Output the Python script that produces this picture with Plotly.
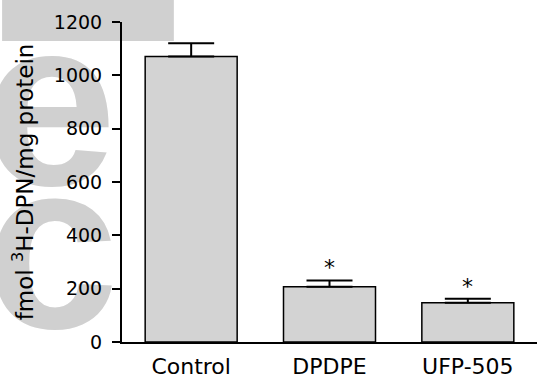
import plotly.graph_objects as go

categories = ["Control", "DPDPE", "UFP-505"]
values = [1071, 207, 147]
sem = [49, 24, 15]
significance = ["", "*", "*"]
y_ticks = [0, 200, 400, 600, 800, 1000, 1200]

FONT = "DejaVu Sans, Verdana, sans-serif"
W, H = 537, 378

fig = go.Figure()

# faint watermark glyphs behind the chart (page-pixel coordinates on a hidden full-page axis pair)
wm_text = ["e", "c"]
wm_x = [50, 52]
wm_y = [125, 268]
fig.add_trace(go.Scatter(
    x=wm_x, y=wm_y, mode="text", text=wm_text,
    textfont=dict(family="Liberation Sans, Arial, sans-serif", size=240, color="#d0d0d0",
                  weight="bold"),
    textposition="middle center", cliponaxis=False,
    xaxis="x", yaxis="y", hoverinfo="skip", showlegend=False,
))
fig.add_trace(go.Scatter(
    x=[88], y=[2], mode="text", text=["\u25ac"],
    textfont=dict(family="DejaVu Sans, sans-serif", size=225, color="#d0d0d0"),
    textposition="middle center", cliponaxis=False,
    xaxis="x", yaxis="y", hoverinfo="skip", showlegend=False,
))

fig.add_trace(go.Bar(
    x=categories, y=values, width=0.665,
    marker=dict(color="#d3d3d3", line=dict(color="black", width=1.5)),
    error_y=dict(type="data", array=sem, arrayminus=[0] * len(sem), symmetric=False,
                 color="black", thickness=2, width=23),
    xaxis="x2", yaxis="y2", showlegend=False,
))

for c, v, e, s in zip(categories, values, sem, significance):
    if s:
        fig.add_annotation(x=c, y=v + e, xref="x2", yref="y2", text=s, showarrow=False,
                           yanchor="bottom", yshift=-2,
                           font=dict(family=FONT, size=22, color="black"))

fig.update_layout(
    width=W, height=H,
    margin=dict(l=0, r=0, t=0, b=0, autoexpand=False),
    paper_bgcolor="white", plot_bgcolor="rgba(0,0,0,0)",
    font=dict(family=FONT, color="black"),
    xaxis=dict(domain=[0, 1], range=[0, W], visible=False, fixedrange=True, automargin=False),
    yaxis=dict(domain=[0, 1], range=[H, 0], visible=False, fixedrange=True, automargin=False),
    xaxis2=dict(domain=[122 / W, 1], anchor="y2", range=[-0.5, 2.5], showline=True,
                linecolor="black", linewidth=2, ticks="", showgrid=False, zeroline=False,
                ticklabelstandoff=4, automargin=False,
                tickfont=dict(family=FONT, size=22, color="black")),
    yaxis2=dict(domain=[36 / H, 1 - 22 / H], anchor="x2", range=[0, 1200], tickvals=y_ticks,
                showline=True, linecolor="black", linewidth=2, ticks="outside", ticklen=8,
                tickwidth=2, tickcolor="black", showgrid=False, zeroline=False,
                ticklabelstandoff=6, automargin=False,
                tickfont=dict(family=FONT, size=19, color="black"),
                title=dict(text="fmol <sup>3</sup>H-DPN/mg protein",
                           font=dict(family=FONT, size=23, color="black"), standoff=14)),
)

fig.write_html("out.html", config={"displayModeBar": False},
               post_script="document.body.style.margin='0px';")
